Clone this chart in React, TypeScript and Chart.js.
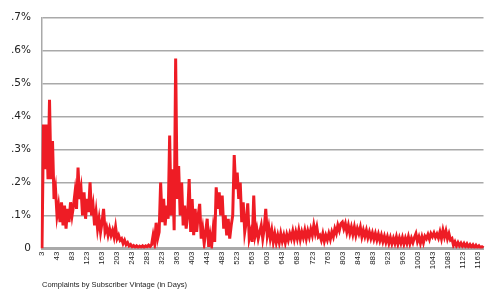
import React, { useEffect, useRef } from "react";
import { Chart, registerables } from "chart.js";

Chart.register(...registerables);

// Complaint rate (in %) sampled every 4 days of subscriber vintage, starting at day 3
const RATE_PCT = [
  0, 0.375, 0.24, 0.375, 0.21, 0.45, 0.21, 0.325, 0.15, 0.18,
  0.1, 0.13, 0.08, 0.14, 0.07, 0.13, 0.06, 0.12, 0.08, 0.14,
  0.1, 0.13, 0.17, 0.12, 0.245, 0.15, 0.18, 0.1, 0.17, 0.09,
  0.15, 0.11, 0.2, 0.1, 0.13, 0.07, 0.11, 0.06, 0.09, 0.05,
  0.08, 0.12, 0.05, 0.065, 0.04, 0.06, 0.04, 0.055, 0.035, 0.065,
  0.03, 0.04, 0.025, 0.03, 0.015, 0.025, 0.012, 0.018, 0.008, 0.012,
  0.005, 0.009, 0.004, 0.008, 0.003, 0.007, 0.004, 0.008, 0.003, 0.008,
  0.005, 0.01, 0.006, 0.012, 0.04, 0.015, 0.078, 0.03, 0.05, 0.2,
  0.08, 0.15, 0.07, 0.13, 0.09, 0.342, 0.1, 0.24, 0.055, 0.575,
  0.15, 0.25, 0.1, 0.2, 0.07, 0.13, 0.06, 0.1, 0.21, 0.05,
  0.15, 0.04, 0.12, 0.05, 0.1, 0.135, 0.03, 0.06, 0.015, 0.05,
  0.09, 0.005, 0.04, 0.01, 0.06, 0.02, 0.185, 0.12, 0.17, 0.1,
  0.16, 0.06, 0.1, 0.04, 0.09, 0.03, 0.07, 0.1, 0.283, 0.18,
  0.23, 0.15, 0.2, 0.08, 0.14, 0.05, 0.08, 0.137, 0.03, 0.05,
  0.02, 0.16, 0.04, 0.06, 0.03, 0.05, 0.07, 0.03, 0.06, 0.12,
  0.04, 0.065, 0.03, 0.055, 0.02, 0.045, 0.018, 0.04, 0.018, 0.045,
  0.022, 0.04, 0.018, 0.042, 0.025, 0.045, 0.03, 0.052, 0.028, 0.05,
  0.03, 0.055, 0.028, 0.05, 0.033, 0.055, 0.03, 0.053, 0.035, 0.058,
  0.04, 0.07, 0.045, 0.065, 0.035, 0.04, 0.025, 0.045, 0.022, 0.04,
  0.026, 0.045, 0.028, 0.05, 0.036, 0.06, 0.046, 0.07, 0.055, 0.075,
  0.08, 0.06, 0.075, 0.05, 0.07, 0.046, 0.065, 0.043, 0.065, 0.04,
  0.06, 0.045, 0.064, 0.036, 0.055, 0.037, 0.055, 0.033, 0.05, 0.031,
  0.047, 0.028, 0.045, 0.026, 0.043, 0.024, 0.04, 0.021, 0.037, 0.019,
  0.035, 0.016, 0.033, 0.015, 0.031, 0.016, 0.035, 0.014, 0.032, 0.016,
  0.033, 0.014, 0.031, 0.016, 0.035, 0.015, 0.031, 0.018, 0.033, 0.045,
  0.021, 0.035, 0.016, 0.035, 0.018, 0.037, 0.03, 0.042, 0.028, 0.045,
  0.036, 0.047, 0.034, 0.044, 0.032, 0.05, 0.03, 0.055, 0.035, 0.053,
  0.03, 0.045, 0.026, 0.03, 0.01, 0.02, 0.008, 0.018, 0.008, 0.016,
  0.007, 0.015, 0.006, 0.014, 0.005, 0.012, 0.004, 0.011, 0.003, 0.01,
  0.003, 0.008, 0.002, 0.005, 0.002,
];

const FIRST_DAY = 3;
const DAY_STEP = 4;
const DAYS = RATE_PCT.map((_, i) => String(FIRST_DAY + DAY_STEP * i));

const TICK_DAYS = [
  "3", "43", "83", "123", "163", "203", "243", "283", "323", "363",
  "403", "443", "483", "523", "563", "603", "643", "683", "723", "763",
  "803", "843", "883", "923", "963", "1003", "1043", "1083", "1123", "1163",
];

const Y_LABELS = ["0", ".1%", ".2%", ".3%", ".4%", ".5%", ".6%", ".7%"];
const X_TITLE = "Complaints by Subscriber Vintage (in Days)";

export default function App() {
  const ref = useRef<HTMLCanvasElement | null>(null);

  useEffect(() => {
    if (!ref.current) return;
    const chart = new Chart(ref.current, {
      type: "line",
      data: {
        labels: DAYS,
        datasets: [
          {
            data: RATE_PCT,
            borderColor: "#ee1c25",
            borderWidth: 3,
            pointRadius: 0,
            tension: 0,
            fill: false,
          },
        ],
      },
      options: {
        responsive: false,
        animation: false,
        layout: { padding: { top: 9, right: 16.5, left: 0, bottom: 0 } },
        plugins: { legend: { display: false }, tooltip: { enabled: false } },
        scales: {
          x: {
            afterFit: (s: any) => {
              s.height = 40.5;
            },
            grid: { display: false, drawTicks: false },
            border: { display: true, color: "#a9a9a9", width: 3 },
            ticks: {
              autoSkip: false,
              minRotation: 90,
              maxRotation: 90,
              padding: 3,
              color: "#222",
              font: { family: "'Liberation Sans', sans-serif", size: 8 },
              callback: (_v: any, i: number) => (TICK_DAYS.includes(DAYS[i]) ? DAYS[i] : null),
            },
            title: {
              display: true,
              text: X_TITLE,
              align: "start",
              color: "#222",
              padding: { top: 0, bottom: 0 },
              font: { family: "'Liberation Sans', sans-serif", size: 7.5, lineHeight: 1 },
            },
          },
          y: {
            min: 0,
            max: 0.7,
            afterFit: (s: any) => {
              s.width = 42;
            },
            grid: { color: "#a9a9a9", lineWidth: 1.5, drawTicks: false },
            border: { display: true, color: "#a9a9a9", width: 1.5 },
            ticks: {
              stepSize: 0.1,
              padding: 11,
              color: "#222",
              font: { family: "'DejaVu Sans', sans-serif", size: 10.5 },
              callback: (v: any) => Y_LABELS[Math.round(Number(v) * 10)],
            },
          },
        },
      },
    });
    return () => chart.destroy();
  }, []);

  return (
    <div style={{ position: "absolute", left: 0, top: 0, width: 500, height: 289, background: "#fff" }}>
      <canvas ref={ref} width={500} height={289} style={{ display: "block" }} />
    </div>
  );
}
